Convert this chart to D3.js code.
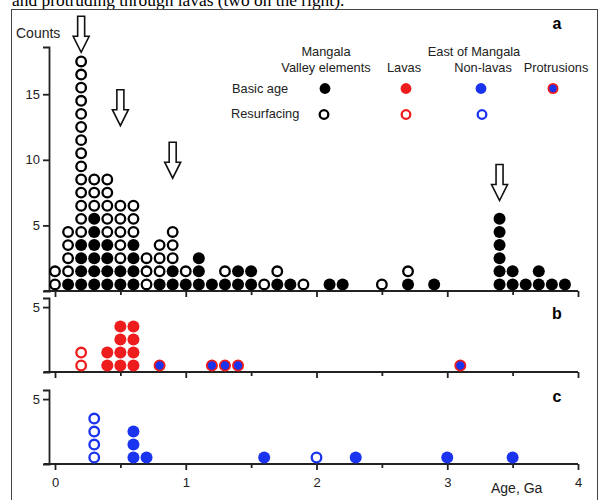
<!DOCTYPE html>
<html>
<head>
<meta charset="utf-8">
<script src="https://cdn.jsdelivr.net/npm/d3@7"></script>
<style>
  body { margin: 0; background: #fff; }
  svg text { font-family: "Liberation Sans", Arial, sans-serif; fill: #222; }
  .axis path, .axis line { stroke: #222; stroke-width: 1.8; }
</style>
</head>
<body>
<div class="diagram"></div>
<script>
var width = 600, height = 500;

// panel a: Mangala Valley elements, one column per 0.1 Ga
var agesA   = [0.0,0.1,0.2,0.3,0.4,0.5,0.6,0.7,0.8,0.9,1.0,1.1,1.2,1.3,1.4,1.5,1.6,1.7,1.8,1.9,2.1,2.2,2.5,2.7,2.9,3.4,3.5,3.6,3.7,3.8,3.9];
var basicA  = [0,1,4,6,4,2,4,0,1,2,1,3,1,1,2,2,0,1,1,0,1,1,0,1,1,6,2,1,2,1,1];
var resurfA = [2,4,14,3,5,5,3,3,3,3,1,0,0,1,0,0,1,1,0,1,0,0,1,1,0,0,0,0,0,0,0];

// panel b: lavas east of Mangala
var agesB       = [0.2,0.4,0.5,0.6,0.8,1.2,1.3,1.4,3.1];
var lavaBasicB  = [0,2,4,4,0,0,0,0,0];
var lavaResurfB = [2,0,0,0,0,0,0,0,0];
var protrusionB = [0,0,0,0,1,1,1,1,1];

// panel c: non-lavas east of Mangala
var agesC         = [0.3,0.6,0.7,1.6,2.0,2.3,3.0,3.5];
var nonLavaBasicC = [0,3,1,1,0,1,1,1];
var nonLavaResurfC= [4,0,0,0,1,0,0,0];

// arrows in panel a (age, tip height in counts)
var arrowAges = [0.2, 0.5, 0.9, 3.4];
var arrowTips = [18.2, 12.6, 8.6, 6.9];

var xTicks = [0,0.5,1,1.5,2,2.5,3,3.5,4];

var red = '#ee1c1c', blue = '#1a33ee';

var styles = {
	basic:      { r: 6,   fill: '#000', stroke: 'none', sw: 0 },
	resurf:     { r: 4.8, fill: '#fff', stroke: '#000', sw: 2.3 },
	lava:       { r: 6,   fill: red,    stroke: 'none', sw: 0 },
	lavaOpen:   { r: 4.8, fill: '#fff', stroke: red,    sw: 2.3 },
	protrusion: { r: 5.1, fill: blue,   stroke: red,    sw: 1.8 },
	nonLava:    { r: 6,   fill: blue,   stroke: 'none', sw: 0 },
	nonLavaOpen:{ r: 4.8, fill: '#fff', stroke: blue,   sw: 2.3 }
};

var svg = d3.select('.diagram')
	.append('svg')
	.attr('width', width)
	.attr('height', height);

// caption fragment, cut off at the top as in the scanned page
svg.append('text')
	.attr('x', 12)
	.attr('y', 5.5)
	.style('font-family', '"Liberation Serif", "Times New Roman", serif')
	.style('font-size', '17.4px')
	.style('fill', '#000')
	.text('and protruding through lavas (two on the right).');

svg.append('rect')
	.attr('x', 11.5)
	.attr('y', 9.5)
	.attr('width', 586)
	.attr('height', 520)
	.attr('fill', 'none')
	.attr('stroke', '#444')
	.attr('stroke-width', 1);

var x = d3.scaleLinear().domain([0, 4]).range([55, 578]);
var axisX = 49;

var panels = [
	{ id: 'a', y: d3.scaleLinear().domain([0, 18.6]).range([291, 47]), ticks: [5, 10, 15], labels: false, letterY: 29 },
	{ id: 'b', y: d3.scaleLinear().domain([0, 5.7]).range([372, 298]), ticks: [5], labels: false, letterY: 319 },
	{ id: 'c', y: d3.scaleLinear().domain([0, 5.7]).range([464, 390]), ticks: [5], labels: true, letterY: 402 }
];

panels.forEach(function(p) {
	var g = svg.append('g').attr('class', 'panel-' + p.id);
	var base = p.y(0);

	// x axis
	var gx = g.append('g')
		.attr('class', 'axis')
		.attr('transform', 'translate(0,' + base + ')')
		.call(d3.axisBottom(x)
			.tickValues(xTicks)
			.tickSizeOuter(0)
			.tickPadding(10)
			.tickFormat(function(d) { return (p.labels && d % 1 === 0) ? d3.format('d')(d) : ''; }));
	gx.select('.domain').remove();
	gx.append('line')
		.attr('x1', x(-0.085))
		.attr('x2', x(4))
		.attr('y1', 0)
		.attr('y2', 0);
	gx.selectAll('.tick line')
		.attr('y2', function(d) { return d % 1 === 0 ? 6 : 4; });
	gx.selectAll('.tick text')
		.attr('y', 14)
		.style('font-size', '13px')
		.style('font-family', '"Liberation Sans", Arial, sans-serif');

	// y axis
	var gy = g.append('g')
		.attr('class', 'axis')
		.attr('transform', 'translate(' + axisX + ',0)')
		.call(d3.axisLeft(p.y)
			.tickValues(p.ticks)
			.tickSizeOuter(0)
			.tickSize(6)
			.tickPadding(3)
			.tickFormat(d3.format('d')));
	gy.selectAll('.tick text')
		.style('font-size', '13px')
		.style('font-family', '"Liberation Sans", Arial, sans-serif');

	g.append('text')
		.attr('x', 557)
		.attr('y', p.letterY)
		.attr('text-anchor', 'middle')
		.style('font-size', '16px')
		.style('font-weight', 'bold')
		.style('fill', '#000')
		.text(p.id);

	p.g = g;
});

// stack dots in columns, bottom series first
function stack(ages, series) {
	var dots = [];
	ages.forEach(function(age, i) {
		var row = 0;
		series.forEach(function(s) {
			for (var k = 0; k < s.values[i]; k++) {
				row += 1;
				dots.push({ age: age, row: row, type: s.type });
			}
		});
	});
	return dots;
}

function drawDots(p, dots) {
	p.g.append('g')
		.selectAll('circle')
		.data(dots)
		.enter().append('circle')
		.attr('cx', function(d) { return x(d.age); })
		.attr('cy', function(d) { return p.y(d.row - 0.5); })
		.attr('r', function(d) { return styles[d.type].r; })
		.attr('fill', function(d) { return styles[d.type].fill; })
		.attr('stroke', function(d) { return styles[d.type].stroke; })
		.attr('stroke-width', function(d) { return styles[d.type].sw; });
}

drawDots(panels[0], stack(agesA, [
	{ type: 'basic', values: basicA },
	{ type: 'resurf', values: resurfA }
]));
drawDots(panels[1], stack(agesB, [
	{ type: 'lava', values: lavaBasicB },
	{ type: 'lavaOpen', values: lavaResurfB },
	{ type: 'protrusion', values: protrusionB }
]));
drawDots(panels[2], stack(agesC, [
	{ type: 'nonLava', values: nonLavaBasicC },
	{ type: 'nonLavaOpen', values: nonLavaResurfC }
]));

// hollow arrows
var ya = panels[0].y;
svg.append('g')
	.selectAll('path')
	.data(arrowAges)
	.enter().append('path')
	.attr('d', function(age, i) {
		var cx = x(age), tip = ya(arrowTips[i]), top = tip - 36, neck = tip - 16;
		return 'M' + (cx - 3.5) + ',' + top +
			'H' + (cx + 3.5) + 'V' + neck +
			'H' + (cx + 8) + 'L' + cx + ',' + tip +
			'L' + (cx - 8) + ',' + neck +
			'H' + (cx - 3.5) + 'Z';
	})
	.attr('fill', '#fff')
	.attr('stroke', '#111')
	.attr('stroke-width', 1.6)
	.attr('stroke-linejoin', 'miter');

// axis titles
svg.append('text')
	.attr('x', 16)
	.attr('y', 38)
	.style('font-size', '14px')
	.text('Counts');

svg.append('text')
	.attr('x', 491)
	.attr('y', 493)
	.style('font-size', '14px')
	.text('Age, Ga');

// legend
var legendHeads = [
	{ text: 'Mangala', x: 326, y: 56 },
	{ text: 'Valley elements', x: 326, y: 72 },
	{ text: 'Lavas', x: 404, y: 72 },
	{ text: 'East of Mangala', x: 474, y: 56 },
	{ text: 'Non-lavas', x: 483, y: 72 },
	{ text: 'Protrusions', x: 556, y: 72 }
];
svg.append('g')
	.selectAll('text')
	.data(legendHeads)
	.enter().append('text')
	.attr('x', function(d) { return d.x; })
	.attr('y', function(d) { return d.y; })
	.attr('text-anchor', 'middle')
	.style('font-size', '12.8px')
	.text(function(d) { return d.text; });

svg.append('text').attr('x', 232).attr('y', 93).style('font-size', '12.8px').text('Basic age');
svg.append('text').attr('x', 231).attr('y', 118).style('font-size', '12.8px').text('Resurfacing');

var legendMarks = [
	{ type: 'basic', x: 325, y: 88.5 },
	{ type: 'lava', x: 406, y: 88.5 },
	{ type: 'nonLava', x: 481, y: 88.5 },
	{ type: 'protrusion', x: 553, y: 88.5 },
	{ type: 'resurf', x: 324, y: 114.5 },
	{ type: 'lavaOpen', x: 406, y: 114.5 },
	{ type: 'nonLavaOpen', x: 482, y: 114.5 }
];
svg.append('g')
	.selectAll('circle')
	.data(legendMarks)
	.enter().append('circle')
	.attr('cx', function(d) { return d.x; })
	.attr('cy', function(d) { return d.y; })
	.attr('r', function(d) { return styles[d.type].r * 0.9; })
	.attr('fill', function(d) { return styles[d.type].fill; })
	.attr('stroke', function(d) { return styles[d.type].stroke; })
	.attr('stroke-width', function(d) { return styles[d.type].sw; });
</script>
</body>
</html>
